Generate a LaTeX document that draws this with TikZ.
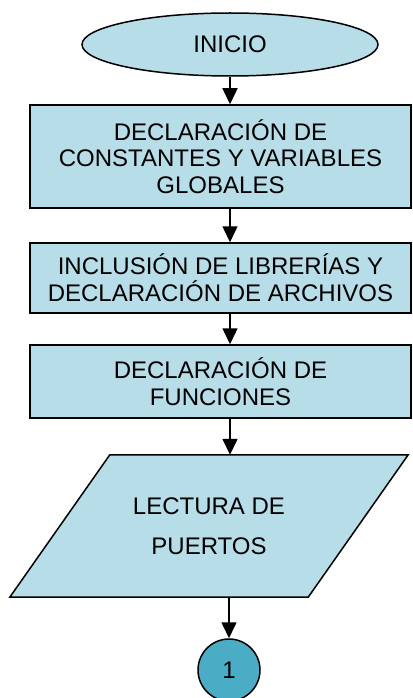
\documentclass[tikz,border=0pt]{standalone}
\usepackage{fontspec}
\setmainfont{Liberation Sans}
\usetikzlibrary{shapes.geometric,arrows.meta,backgrounds}
\definecolor{cajaazul}{HTML}{B7DDE8}
\definecolor{conector}{HTML}{4BACC6}
\tikzset{
  texto/.style={font=\fontsize{24}{26.7}\selectfont},
  proceso/.style={draw,fill=cajaazul,line width=1.5pt,minimum width=381pt,inner sep=0pt,align=center,texto},
  flecha/.style={line width=1.5pt,-{Triangle[width=15pt,length=16pt]}}
}
\begin{document}
\begin{tikzpicture}[x=1pt,y=-1pt]
\useasboundingbox (0,0) rectangle (412,698);
\node[draw,fill=cajaazul,ellipse,line width=1.5pt,minimum width=296pt,minimum height=63pt,inner sep=0pt,texto] (ini) at (230,44.5) {INICIO};
\node[proceso,minimum height=103pt] (dec1) at (220.5,156.5) {DECLARACIÓN DE\\CONSTANTES Y VARIABLES\\GLOBALES};
\node[proceso,minimum height=70pt] (dec2) at (220.5,278) {INCLUSIÓN DE LIBRERÍAS Y\\DECLARACIÓN DE ARCHIVOS};
\node[proceso,minimum height=73pt] (dec3) at (220.5,381.5) {DECLARACIÓN DE\\FUNCIONES};
\node[minimum width=298pt,minimum height=142pt,inner sep=0pt,align=center,texto] (lect) at (209,526) {LECTURA DE\\[13.3pt]PUERTOS};
\begin{scope}[on background layer]
\draw[fill=cajaazul,line width=1.5pt] ([xshift=-50pt]lect.south west) -- ([xshift=50pt]lect.north west)
  -- ([xshift=50pt]lect.north east) -- ([xshift=-50pt]lect.south east) -- cycle;
\end{scope}
\node[draw,circle,fill=conector,minimum size=62pt,inner sep=0pt,line width=1.5pt,texto] (con) at (229,670) {1};
\draw[flecha] (ini.south) -- (ini.south |- dec1.north);
\draw[flecha] (ini |- dec1.south) -- (ini |- dec2.north);
\draw[flecha] (ini |- dec2.south) -- (ini |- dec3.north);
\draw[flecha] (ini |- dec3.south) -- (ini |- lect.north);
\draw[flecha] (con |- lect.south) -- (con.north);
\end{tikzpicture}
\end{document}
